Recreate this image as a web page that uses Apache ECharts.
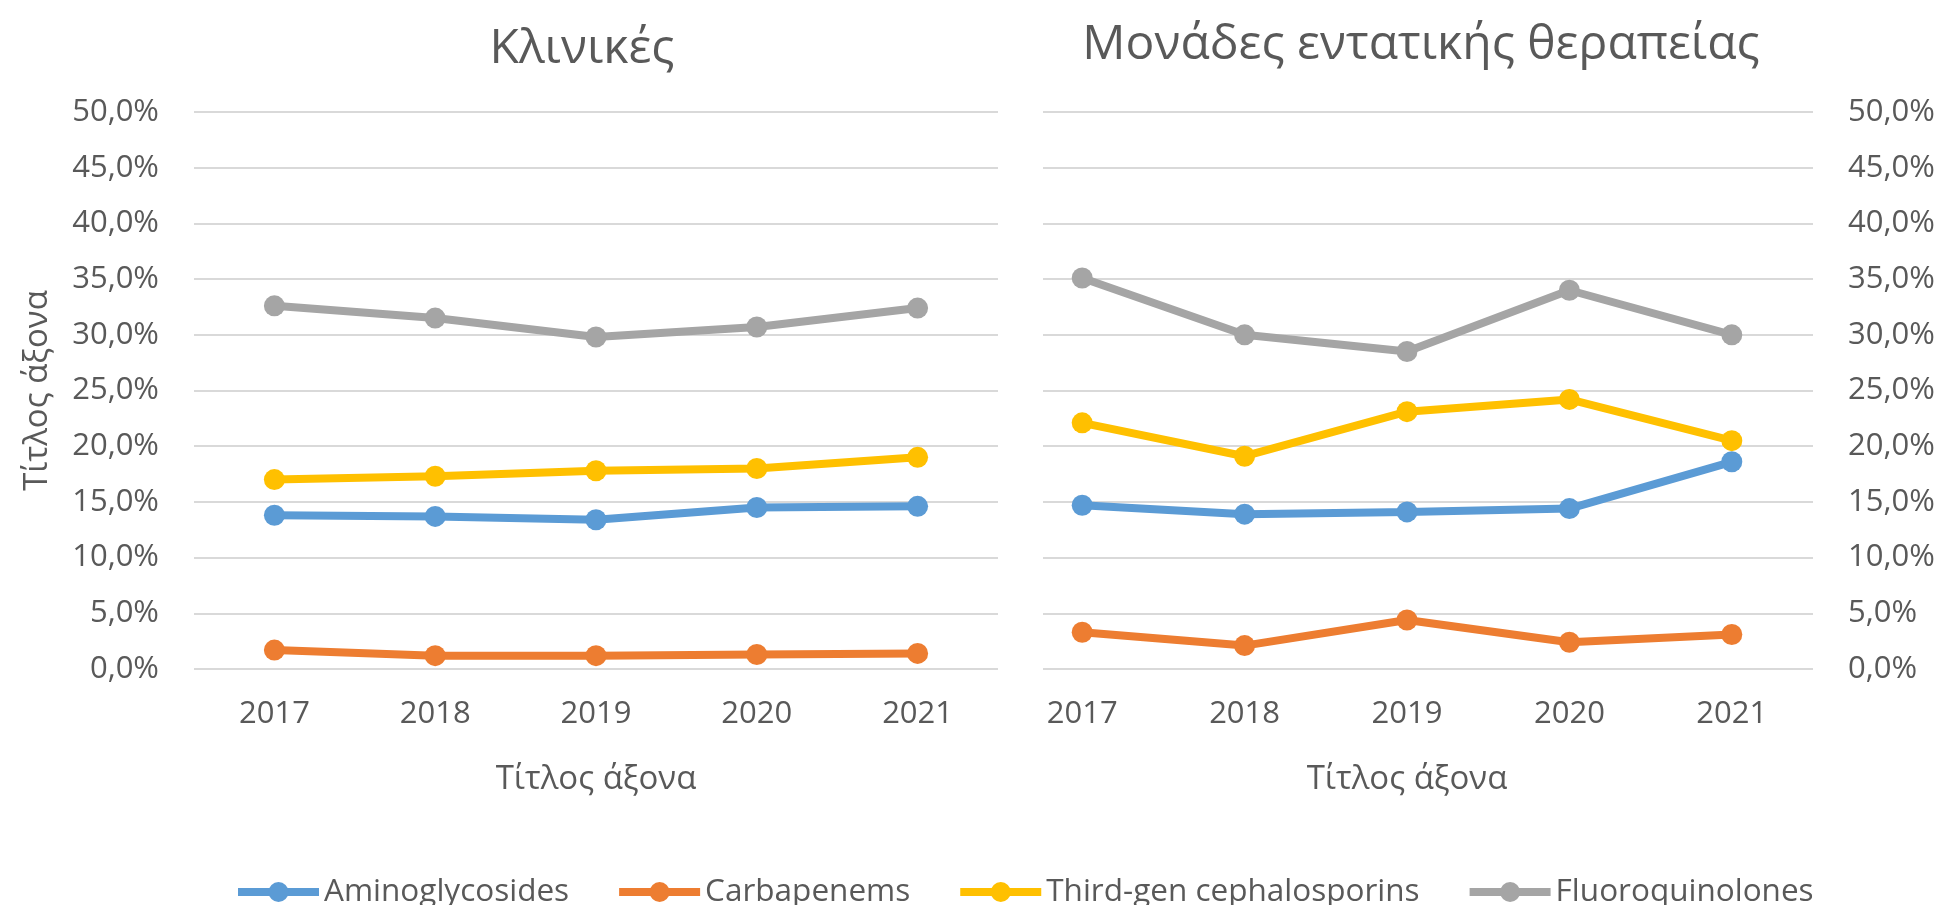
<!DOCTYPE html>
<html>
<head>
<meta charset="utf-8">
<title>Κλινικές / ΜΕΘ</title>
<script src="https://cdn.jsdelivr.net/npm/echarts@6/dist/echarts.min.js"></script>
<style>
  html, body { margin: 0; padding: 0; background: #ffffff; }
  #chart { width: 1944px; height: 905px; }
</style>
</head>
<body>
<div id="chart"></div>
<script>
// data (percent)
const years = ["2017", "2018", "2019", "2020", "2021"];
const seriesNames = ["Aminoglycosides", "Carbapenems", "Third-gen cephalosporins", "Fluoroquinolones"];
const colors = ["#5B9BD5", "#ED7D31", "#FFC000", "#A5A5A5"];

// Κλινικές
const wardAmino = [13.8, 13.7, 13.4, 14.5, 14.6];
const wardCarba = [1.7, 1.2, 1.2, 1.3, 1.4];
const wardCeph = [17.0, 17.3, 17.8, 18.0, 19.0];
const wardFluoro = [32.6, 31.5, 29.8, 30.7, 32.4];

// Μονάδες εντατικής θεραπείας
const icuAmino = [14.7, 13.9, 14.1, 14.4, 18.6];
const icuCarba = [3.3, 2.1, 4.4, 2.4, 3.1];
const icuCeph = [22.1, 19.1, 23.1, 24.2, 20.5];
const icuFluoro = [35.1, 30.0, 28.5, 34.0, 30.0];

const yMin = 0, yMax = 50, yStep = 5;

const textColor = "#595959";
const font = "Open Sans";

const chart = echarts.init(document.getElementById("chart"));

function pct(v) {
  return v.toFixed(1).replace(".", ",") + "%";
}

function makeX(gridIndex) {
  return {
    type: "category",
    gridIndex: gridIndex,
    data: years,
    boundaryGap: true,
    axisLine: { show: false },
    axisTick: { show: false },
    axisLabel: { color: textColor, fontFamily: font, fontSize: 31, margin: 30 },
    name: "Τίτλος άξονα",
    nameLocation: "middle",
    nameGap: 94,
    nameTextStyle: { color: textColor, fontFamily: font, fontSize: 33 },
  };
}

function makeY(gridIndex, position) {
  return {
    type: "value",
    gridIndex: gridIndex,
    position: position,
    min: yMin,
    max: yMax,
    interval: yStep,
    axisLine: { show: false },
    axisTick: { show: false },
    splitLine: { lineStyle: { color: "#D9D9D9", width: 2 } },
    axisLabel: {
      color: textColor,
      fontFamily: font,
      fontSize: 31,
      margin: 35,
      formatter: pct,
    },
  };
}

function makeLine(name, data, color, gridIndex) {
  return {
    name: name,
    type: "line",
    xAxisIndex: gridIndex,
    yAxisIndex: gridIndex,
    data: data,
    symbol: "circle",
    symbolSize: 21,
    lineStyle: { color: color, width: 8 },
    itemStyle: { color: color, borderWidth: 0 },
  };
}

const leftY = makeY(0, "left");
leftY.name = "Τίτλος άξονα";
leftY.nameLocation = "middle";
leftY.nameGap = 140;
leftY.nameTextStyle = { color: textColor, fontFamily: font, fontSize: 33 };

const option = {
  animation: false,
  backgroundColor: "#ffffff",
  color: colors,
  title: [
    {
      text: "Κλινικές",
      left: 577,
      top: 20,
      textAlign: "center",
      textStyle: { color: textColor, fontFamily: font, fontSize: 48, fontWeight: "normal" },
    },
    {
      text: "Μονάδες εντατικής θεραπείας",
      left: 1416,
      top: 16,
      textAlign: "center",
      textStyle: { color: textColor, fontFamily: font, fontSize: 48, fontWeight: "normal" },
    },
  ],
  legend: {
    data: seriesNames,
    left: 229,
    top: 871,
    itemWidth: 81,
    itemHeight: 25,
    itemGap: 46,
    lineStyle: { width: 8 },
    textStyle: { color: textColor, fontFamily: font, fontSize: 31.5, padding: [0, 0, 0, 0] },
  },
  grid: [
    { left: 194, right: 946, top: 112, height: 557 },
    { left: 1001, right: 131, top: 112, height: 557 },
  ],
  xAxis: [makeX(0), makeX(1)],
  yAxis: [leftY, makeY(1, "right")],
  // the right chart sits partly behind the left one, hiding the start of its gridlines
  graphic: [
    {
      type: "rect",
      z: 1,
      shape: { x: 999, y: 100, width: 44, height: 580 },
      style: { fill: "#ffffff" },
    },
  ],
  series: [
    makeLine(seriesNames[0], wardAmino, colors[0], 0),
    makeLine(seriesNames[1], wardCarba, colors[1], 0),
    makeLine(seriesNames[2], wardCeph, colors[2], 0),
    makeLine(seriesNames[3], wardFluoro, colors[3], 0),
    makeLine(seriesNames[0], icuAmino, colors[0], 1),
    makeLine(seriesNames[1], icuCarba, colors[1], 1),
    makeLine(seriesNames[2], icuCeph, colors[2], 1),
    makeLine(seriesNames[3], icuFluoro, colors[3], 1),
  ],
};

chart.setOption(option);
</script>
</body>
</html>
